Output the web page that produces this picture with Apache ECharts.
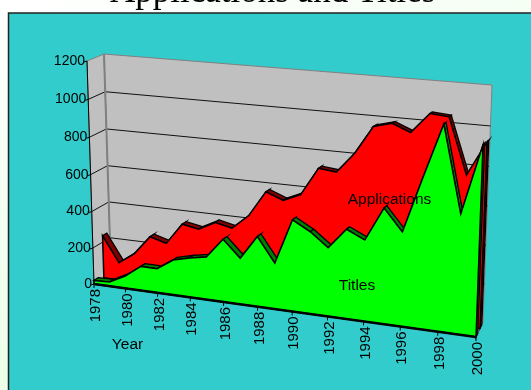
<!DOCTYPE html>
<html>
<head>
<meta charset="utf-8">
<style>
  html, body { margin: 0; padding: 0; width: 531px; height: 390px; overflow: hidden;
    background: linear-gradient(160deg, #ffffff 0%, #f2fff0 45%, #e6ffdc 100%); }
  #chart { position: absolute; left: 0; top: 0; width: 531px; height: 390px; }
</style>
<script src="https://cdn.jsdelivr.net/npm/echarts@6/dist/echarts.min.js"></script>
</head>
<body>
<div id="chart"></div>
<script>
// Yearly counts, one row per series of the area chart.
const years = ['1978','1979','1980','1981','1982','1983','1984','1985','1986','1987','1988','1989',
               '1990','1991','1992','1993','1994','1995','1996','1997','1998','1999','2000'];
const titles = [20,23,68,133,132,191,213,230,335,246,371,243,479,428,357,462,418,589,480,758,1025,600,942];
const applications = [235,95,158,262,236,352,335,382,362,440,575,540,580,725,715,820,962,986,949,1050,1042,765,935];
const valueTicks = [0,200,400,600,800,1000,1200];
const yearTicks = ['1978','1980','1982','1984','1986','1988','1990','1992','1994','1996','1998','2000'];

// Corners of the perspective box, as [left-bottom, right-bottom, right-top, left-top].
const FRONT = [[94,284],[476,337],[485,90],[87,61]];
const BACK  = [[111,273],[483,322],[492,85],[104,54]];
const GRID = { left: 94, top: 61, width: 382, height: 223 };

function homography(q) {
  const [[x0,y0],[x1,y1],[x2,y2],[x3,y3]] = q;
  const dx1 = x1-x2, dx2 = x3-x2, sx = x0-x1+x2-x3;
  const dy1 = y1-y2, dy2 = y3-y2, sy = y0-y1+y2-y3;
  const den = dx1*dy2 - dx2*dy1;
  const g = (sx*dy2 - dx2*sy)/den, h = (dx1*sy - sx*dy1)/den;
  const a = x1-x0+g*x1, b = x3-x0+h*x3, d = y1-y0+g*y1, e = y3-y0+h*y3;
  return (u,v) => {
    const w = g*u + h*v + 1;
    return [(a*u + b*v + x0)/w, (d*u + e*v + y0)/w];
  };
}
const front = homography(FRONT), back = homography(BACK);

// Maps a grid pixel from the cartesian axes into the box at a depth in 0..1.
function project(p, depth) {
  const u = (p[0]-GRID.left)/GRID.width, v = (GRID.top+GRID.height-p[1])/GRID.height;
  const f = front(u,v), b = back(u,v);
  return [f[0]+(b[0]-f[0])*depth, f[1]+(b[1]-f[1])*depth];
}

const poly = (points, fill, stroke, z2, lineWidth) => ({
  type: 'polygon', z2: z2 || 0, silent: true,
  shape: { points },
  style: { fill: fill, stroke: stroke || null, lineWidth: lineWidth === undefined ? 1 : lineWidth, lineJoin: 'miter' }
});
const line = (a, b, stroke, lineWidth, z2) => ({
  type: 'line', z2: z2 || 0, silent: true,
  shape: { x1: a[0], y1: a[1], x2: b[0], y2: b[1] },
  style: { stroke, lineWidth: lineWidth || 1 }
});
const text = (s, x, y, opts) => ({
  type: 'text', silent: true, x, y, rotation: (opts && opts.rotation) || 0,
  style: Object.assign({ text: s, fill: '#000', font: '14px "Liberation Sans", Arial, sans-serif',
    align: 'center', verticalAlign: 'middle' }, opts && opts.style)
});

// One depth slab of the area chart: top facets behind a flat front face.
function layerRenderer(values, d0, d1, faceColor, sideColor) {
  return function (params, api) {
    if (params.dataIndex !== 0) return null;
    const base = values.map((_, i) => api.coord([i, 0]));
    const top = values.map((v, i) => api.coord([i, v]));
    const children = [];
    const last = values.length - 1;
    for (let i = 0; i < last; i++) {
      children.push(poly([project(top[i],d0), project(top[i+1],d0), project(top[i+1],d1), project(top[i],d1)],
        sideColor, '#000', 1, 1.3));
    }
    children.push(poly([project(base[last],d0), project(top[last],d0), project(top[last],d1), project(base[last],d1)],
      sideColor, '#000', 1, 1.3));
    const outline = top.map(p => project(p,d0));
    outline.push(project(base[last],d0), project(base[0],d0));
    children.push(poly(outline, faceColor, '#000', 2, 1.5));
    return { type: 'group', children };
  };
}

// Walls, floor and gridlines behind the data.
function renderWalls(params, api) {
  const children = [];
  const o = api.coord([0,0]), xEnd = api.coord([years.length-1,0]), t = api.coord([0,1200]);
  const tr = [xEnd[0], t[1]];
  const gray = '#808080';
  children.push(poly([project(o,0),project(o,1),project(t,1),project(t,0)], '#c0c0c0', gray, 0));
  children.push(poly([project(o,1),project(xEnd,1),project(tr,1),project(t,1)], '#c0c0c0', gray, 0));
  children.push(poly([project(o,0),project(xEnd,0),project(xEnd,1),project(o,1)], '#c0c0c0', gray, 0));
  valueTicks.slice(1,-1).forEach(v => {
    const a = api.coord([0,v]), b = api.coord([years.length-1,v]);
    children.push(line(project(a,0), project(a,1), '#111', 1, 1));
    children.push(line(project(a,1), project(b,1), '#111', 1, 1));
  });
  children.push(line(project(o,1), project(t,1), gray, 2, 1));
  return { type: 'group', children };
}

// Axis lines, ticks and tick labels in front of the areas.
function renderAxes(params, api) {
  const children = [];
  const o = api.coord([0,0]), xEnd = api.coord([years.length-1,0]), t = api.coord([0,1200]);
  children.push(line(project(o,0), project(t,0), '#000', 1, 5));
  children.push(line(project(o,0), project(xEnd,0), '#000', 2.5, 5));
  valueTicks.forEach(v => {
    const p = project(api.coord([0,v]),0);
    children.push(line([p[0]-3,p[1]+1], p, '#000', 1, 5));
    children.push(text(String(v), p[0]-2, p[1],
      { style: { align: 'right', font: '14px "Liberation Sans", Arial, sans-serif' } }));
  });
  yearTicks.forEach(y => {
    const p = project(api.coord([years.indexOf(y),0]),0);
    children.push(line(p, [p[0],p[1]+4], '#000', 1, 5));
    children.push(text(y, p[0]+2, p[1]+5,
      { rotation: Math.PI/2, style: { align: 'right', font: '15px "Liberation Sans", Arial, sans-serif' } }));
  });
  return { type: 'group', children };
}

const chart = echarts.init(document.getElementById('chart'), null, { renderer: 'canvas' });
chart.setOption({
  animation: false,
  backgroundColor: 'transparent',
  title: {
    text: 'Applications and Titles', left: 105, top: -30,
    textStyle: { fontFamily: '"Liberation Serif", "Times New Roman", serif', fontSize: 35, fontWeight: 'normal', color: '#000' }
  },
  grid: Object.assign({ containLabel: false }, GRID),
  xAxis: { type: 'category', data: years, boundaryGap: false, show: false },
  yAxis: { type: 'value', min: 0, max: 1200, interval: 200, show: false },
  graphic: [
    { type: 'rect', z: -1, silent: true, shape: { x: 8.5, y: 13, width: 540, height: 400 },
      style: { fill: '#33cccc', stroke: '#222', lineWidth: 1.5 } },
    { type: 'text', z: 20, silent: true, x: 389.5, y: 200,
      style: { text: 'Applications', fill: '#000', font: '15.5px "Liberation Sans", Arial, sans-serif', align: 'center', verticalAlign: 'middle' } },
    { type: 'text', z: 20, silent: true, x: 357, y: 286,
      style: { text: 'Titles', fill: '#000', font: '15.5px "Liberation Sans", Arial, sans-serif', align: 'center', verticalAlign: 'middle' } },
    { type: 'text', z: 20, silent: true, x: 127.5, y: 345,
      style: { text: 'Year', fill: '#000', font: '15.5px "Liberation Sans", Arial, sans-serif', align: 'center', verticalAlign: 'middle' } }
  ],
  series: [
    { type: 'custom', name: 'Walls', z: 1, silent: true, coordinateSystem: 'cartesian2d', clip: false,
      renderItem: renderWalls, data: [[0,0]] },
    { type: 'custom', name: 'Applications', z: 2, silent: true, coordinateSystem: 'cartesian2d', clip: false,
      renderItem: layerRenderer(applications, 0.58, 0.83, '#ff0000', '#800000'),
      data: applications.map((v,i) => [i,v]) },
    { type: 'custom', name: 'Titles', z: 3, silent: true, coordinateSystem: 'cartesian2d', clip: false,
      renderItem: layerRenderer(titles, 0, 0.25, '#00ff00', '#008000'),
      data: titles.map((v,i) => [i,v]) },
    { type: 'custom', name: 'Axes', z: 4, silent: true, coordinateSystem: 'cartesian2d', clip: false,
      renderItem: renderAxes, data: [[0,0]] }
  ]
});
</script>
</body>
</html>
